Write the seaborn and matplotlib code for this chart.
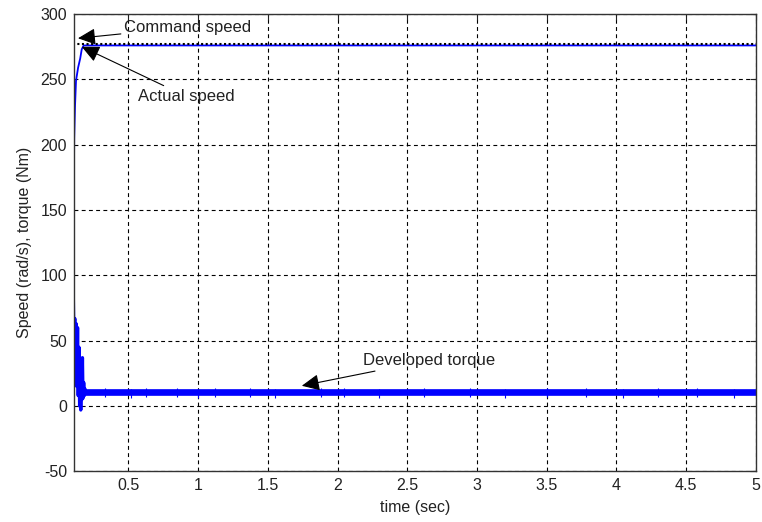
import numpy as np
import pandas as pd
import matplotlib
matplotlib.use("Agg")
import matplotlib.pyplot as plt
import seaborn as sns

# ==========================
# DATA
# ==========================
speed_t = [0.0, 0.105, 0.112, 0.118, 0.125, 0.14, 0.155, 0.166, 0.18, 5.0]
speed_v = [0, 85, 205, 230, 249, 259, 266, 273, 276, 276]

command_t = [0.0, 5.0]
command_v = [277, 277]

torque_t = [0.105, 0.11, 0.116, 0.121, 0.126, 0.131, 0.136, 0.141, 0.146, 0.151,
            0.155, 0.159, 0.163, 0.167, 0.171, 0.175, 0.180, 0.185, 0.190,
            0.195, 0.2, 5.0]
torque_v = [88, 50, 67, 25, 63, 15, 60, 8, 45, 0, 30, -3, 25, 5, 37, 6, 18, 8,
            13, 9, 10.5, 10.5]

# small spikes on the steady torque band
spike_t = [0.33, 0.52, 0.63, 0.85, 1.0, 1.12, 1.37, 1.55, 1.88, 2.05, 2.3,
           2.62, 2.95, 3.2, 3.5, 3.78, 4.05, 4.3, 4.58, 4.84]
spike_lo = [7, 6, 7, 7, 6, 7, 7, 6, 7, 7, 6, 7, 7, 6, 7, 7, 6, 7, 7, 6]
spike_hi = [14, 13, 14, 14, 13, 14, 14, 13, 14, 14, 13, 14, 14, 13, 14, 14, 13, 14, 14, 13]

x_ticks = [0.5, 1, 1.5, 2, 2.5, 3, 3.5, 4, 4.5, 5]
x_tick_labels = ['0.5', '1', '1.5', '2', '2.5', '3', '3.5', '4', '4.5', '5']
y_ticks = [-50, 0, 50, 100, 150, 200, 250, 300]

# ==========================
# STYLE
# ==========================
sns.set_style("white")
plt.rcParams['font.family'] = ['Liberation Sans', 'DejaVu Sans']
plt.rcParams['axes.unicode_minus'] = False

fig = plt.figure(figsize=(7.62, 5.22), dpi=100)
ax = fig.add_axes([0.097, 0.097, 0.895, 0.876])

speed_df = pd.DataFrame({'t': speed_t, 'v': speed_v})
command_df = pd.DataFrame({'t': command_t, 'v': command_v})
torque_df = pd.DataFrame({'t': torque_t, 'v': torque_v})

sns.lineplot(data=torque_df, x='t', y='v', ax=ax, color='#0000ff', lw=2.4,
             estimator=None, sort=False)
steady = torque_df[torque_df['t'] >= 0.2]
ax.plot(steady['t'], steady['v'], color='#0000ff', lw=4.8, solid_capstyle='butt')
ax.vlines(spike_t, spike_lo, spike_hi, color='#0000ff', lw=0.8)

sns.lineplot(data=speed_df, x='t', y='v', ax=ax, color='#0000ff', lw=1.3,
             estimator=None, sort=False)
sns.lineplot(data=command_df, x='t', y='v', ax=ax, color='black', lw=1.5,
             linestyle=(0, (1, 1.2)), estimator=None, sort=False)

# ==========================
# AXES
# ==========================
ax.set_xlim(0.11, 5)
ax.set_ylim(-50, 300)
ax.set_xticks(x_ticks)
ax.set_xticklabels(x_tick_labels)
ax.set_yticks(y_ticks)
ax.tick_params(direction='in', length=4, top=True, right=True, labelsize=11.5,
               colors='#222222', pad=5)
ax.grid(True, color='black', linestyle=(0, (3.5, 3)), lw=0.8)
for s in ax.spines.values():
    s.set_color('#333333')
    s.set_linewidth(1.0)
ax.set_xlabel('time (sec)', fontsize=11.5, color='#222222', labelpad=5)
ax.set_ylabel('Speed (rad/s), torque (Nm)', fontsize=11.5, color='#222222', labelpad=6)

# ==========================
# ANNOTATIONS
# ==========================
arrow = dict(arrowstyle='-|>,head_length=0.9,head_width=0.42', color='black',
             lw=0.8, shrinkA=0, shrinkB=0)
ax.annotate('Command speed', xy=(0.139, 281.5), xytext=(0.47, 290),
            fontsize=12, va='center', ha='left', color='#222222', arrowprops=arrow)
ax.annotate('Actual speed', xy=(0.166, 275), xytext=(0.57, 237),
            fontsize=12, va='center', ha='left', color='#222222', arrowprops=arrow)
ax.annotate('Developed torque', xy=(1.744, 15.5), xytext=(2.18, 35),
            fontsize=12, va='center', ha='left', color='#222222', arrowprops=arrow)

fig.savefig('out.png', dpi=100)
